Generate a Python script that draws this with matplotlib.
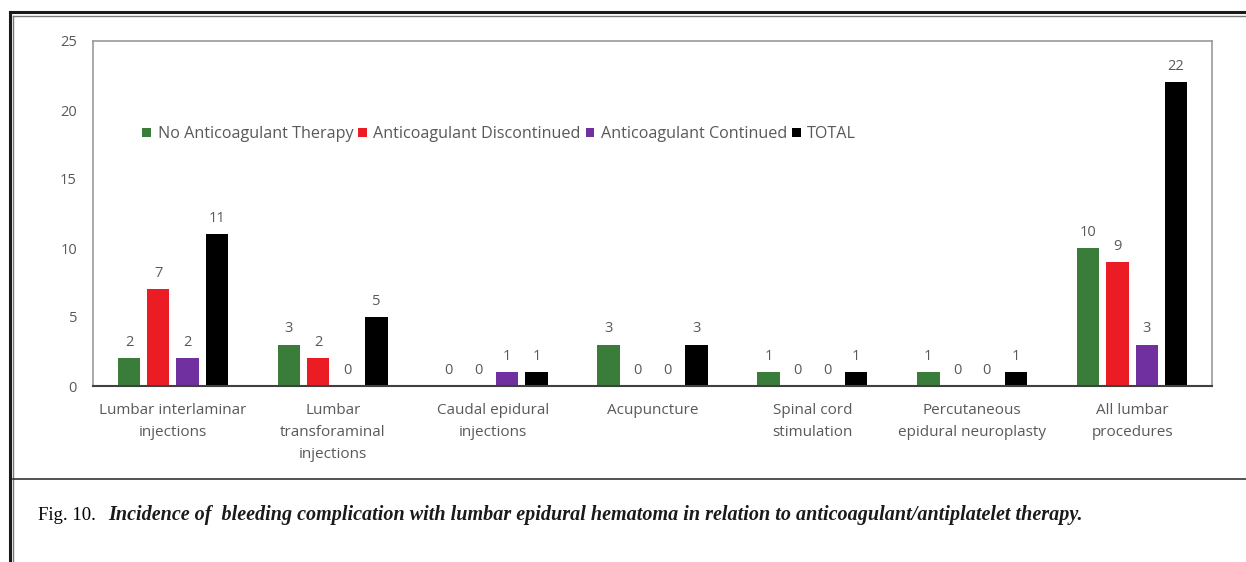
import numpy as np
import matplotlib.pyplot as plt
from matplotlib.lines import Line2D

# Data
categories = ["Lumbar interlaminar\ninjections", "Lumbar\ntransforaminal\ninjections",
              "Caudal epidural\ninjections", "Acupuncture", "Spinal cord\nstimulation",
              "Percutaneous\nepidural neuroplasty", "All lumbar\nprocedures"]
series_names = ["No Anticoagulant Therapy", "Anticoagulant Discontinued",
                "Anticoagulant Continued", "TOTAL"]
no_anticoag = [2, 3, 0, 3, 1, 1, 10]
discontinued = [7, 2, 0, 0, 0, 0, 9]
continued = [2, 0, 1, 0, 0, 0, 3]
total = [11, 5, 1, 3, 1, 1, 22]
yticks = [0, 5, 10, 15, 20, 25]

colors = ["#3a7d3a", "#ec1c24", "#7030a0", "#000000"]
gray = "#595959"
W, H = 1246, 562

plt.rcParams['font.family'] = ['Open Sans', 'DejaVu Sans']

fig = plt.figure(figsize=(W / 100, H / 100), dpi=100)
ax = fig.add_axes([93 / W, 1 - 386 / H, (1212 - 93) / W, (386 - 41) / H])

x = np.arange(len(categories))
pitch, width = 0.183, 0.14
for i, (vals, name) in enumerate(zip([no_anticoag, discontinued, continued, total], series_names)):
    pos = x + (i - 1.5) * pitch
    ax.bar(pos, vals, width=width, color=colors[i], label=name, zorder=2)
    for px, v in zip(pos, vals):
        ax.text(px, v + 0.6, str(v), ha='center', va='bottom', fontsize=10.5, color=gray)

ax.set_xlim(-0.5, len(categories) - 0.5)
ax.set_ylim(0, 25)
ax.set_yticks(yticks)
ax.set_xticks(x)
ax.set_xticklabels(categories, fontsize=11, color=gray, linespacing=1.65)
ax.tick_params(axis='y', length=0, labelsize=10.5, labelcolor=gray, pad=11.5)
ax.tick_params(axis='x', length=0, pad=12)
for s in ['top', 'right', 'left']:
    ax.spines[s].set_color('#9a9a9a')
    ax.spines[s].set_linewidth(1.2)
ax.spines['bottom'].set_color('#404040')
ax.spines['bottom'].set_linewidth(1.5)

leg = ax.legend(loc='center left', bbox_to_anchor=(0.044, 0.73), ncol=4, frameon=False,
                fontsize=11.6, handlelength=0.55, handleheight=0.55, handletextpad=0.4,
                columnspacing=0.3, labelcolor=gray, borderaxespad=0, borderpad=0)

# Outer frame and caption panel
def fline(xs, ys, **kw):
    fig.add_artist(Line2D([v / W for v in xs], [1 - v / H for v in ys], **kw))

fline([10, W], [12, 12], color='#1a1a1a', lw=2.2)
fline([13, W], [16, 16], color='#777777', lw=1.0)
fline([10, 10], [12, H], color='#1a1a1a', lw=2.2)
fline([13.5, 13.5], [16, H], color='#777777', lw=1.0)
fline([13, W], [479, 479], color='#333333', lw=1.2)

fig.text(38 / W, 1 - 515 / H, "Fig. 10. ", fontsize=13.5, family='Liberation Serif',
         va='center', ha='left')
fig.text(108 / W, 1 - 515 / H,
         "Incidence of  bleeding complication with lumbar epidural hematoma in relation to anticoagulant/antiplatelet therapy.",
         fontsize=14.5, family='Liberation Serif', style='italic', weight='bold',
         va='center', ha='left', color='#1a1a1a')

fig.savefig('out.png', dpi=100)
